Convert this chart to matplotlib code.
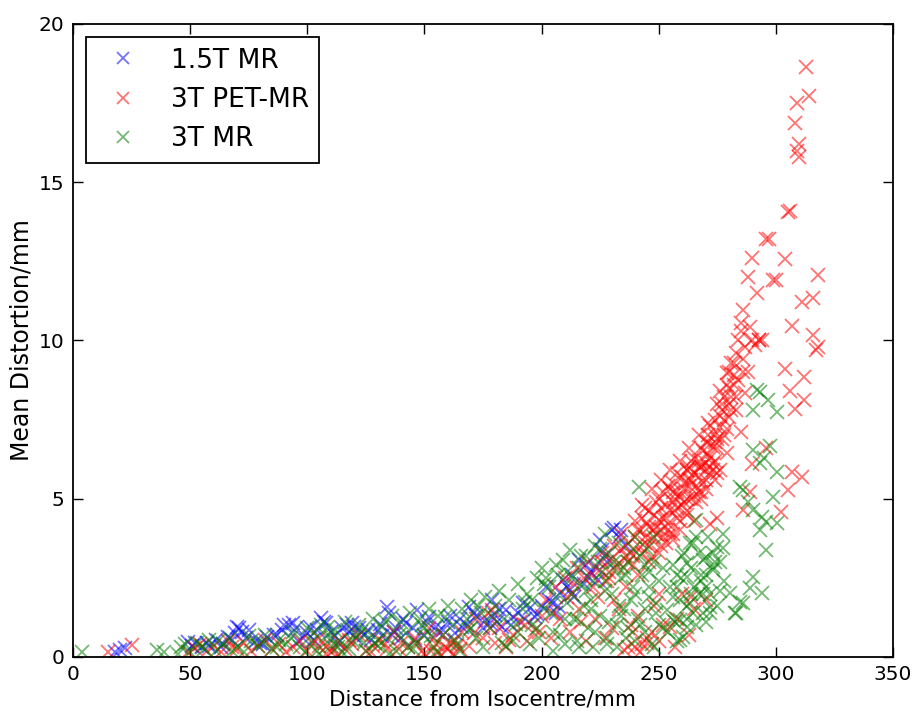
import matplotlib
matplotlib.use("Agg")
import matplotlib.pyplot as plt

# 1.5T MR
blue_x = [18, 20, 22, 49, 52, 55, 58, 61, 64, 66, 68, 70, 71, 72, 75, 78, 80, 83, 86, 87,
          90, 92, 94, 95, 98, 100, 103, 104, 106, 108, 110, 112, 115, 118, 119, 120, 122, 124, 127, 130,
          132, 134, 135, 137, 138, 140, 142, 145, 147, 150, 152, 155, 158, 160, 163, 165, 168, 169, 172, 175,
          178, 179, 180, 181, 183, 185, 188, 190, 193, 195, 198, 200, 203, 205, 206, 208, 209, 211, 212, 214,
          216, 218, 220, 221, 223, 224, 225, 226, 228, 230, 231, 233, 234, 236,
          51, 57, 63, 69, 74, 81, 89, 96, 101, 107, 113, 117, 121, 126, 131, 136, 141, 146, 151, 156,
          161, 166, 171, 176, 182, 187, 192, 197, 202, 207, 213, 219, 227]
blue_y = [0.16, 0.22, 0.28, 0.48, 0.44, 0.30, 0.36, 0.54, 0.40, 0.63, 0.55, 0.96, 0.92, 0.79, 0.85, 0.50, 0.45, 0.62, 0.70, 0.70,
          1.00, 1.01, 1.07, 0.92, 0.60, 0.75, 0.55, 0.85, 1.22, 1.07, 0.80, 0.65, 0.90, 0.79, 1.07, 0.96, 0.92, 0.70, 0.55, 0.85,
          0.65, 1.59, 1.39, 0.80, 0.92, 0.60, 1.07, 0.90, 1.48, 0.70, 1.27, 0.95, 0.85, 1.10, 0.75, 1.20, 1.00, 1.59, 1.30, 0.90,
          1.07, 1.80, 1.33, 1.10, 0.95, 1.48, 1.27, 1.40, 1.20, 1.55, 1.35, 1.60, 1.80, 1.70, 1.38, 2.01, 2.43, 2.22, 2.12, 1.90,
          3.06, 2.30, 2.54, 2.70, 2.85, 2.43, 3.70, 3.38, 3.00, 4.00, 4.07, 3.80, 4.00, 3.50,
          0.35, 0.45, 0.30, 0.75, 0.60, 0.40, 0.85, 0.50, 0.95, 1.10, 0.45, 1.00, 0.60, 0.85, 1.05, 0.70, 1.20, 0.55, 1.10, 0.80,
          1.30, 0.95, 1.40, 1.15, 1.50, 1.00, 1.70, 1.25, 2.20, 1.60, 2.60, 2.90, 3.20]

# 3T PET-MR
red_x = [15, 25, 49, 52, 54, 57, 60, 63, 66, 68, 70, 73, 76, 79, 82, 85, 88, 91, 94, 97,
         100, 102, 105, 108, 110, 113, 116, 119, 122, 125, 128, 131, 134, 137, 140, 143, 146, 149, 152, 155,
         158, 160, 163, 166, 169, 172, 175, 177, 179, 180, 182, 185, 188, 191, 194, 197, 200,
         150, 153, 156, 159, 162, 165, 157, 161, 108, 111, 113,
         202, 204, 206, 208, 210, 212, 213, 215, 216, 218, 219, 220, 222, 223, 225, 226, 227, 229, 230, 231,
         233, 234, 235, 236, 237, 238, 239, 240, 241, 242, 243, 244, 245, 245, 246, 247, 248, 249, 250, 250,
         251, 252, 253, 254, 255, 256, 257, 258, 259, 260,
         238, 241, 244, 246, 249, 252, 254, 256, 258, 260, 262, 264, 266, 268, 270, 272, 274, 276, 278, 280, 282,
         240, 242, 245, 247, 250, 255, 257, 260, 263, 265, 270,
         261, 262, 263, 264, 265, 265, 266, 267, 268, 269, 270, 270, 271, 272, 273, 273, 274, 275, 276, 276,
         277, 278, 279, 279, 280, 281, 282, 283, 284, 285, 285, 286, 287, 288, 289, 290, 290, 291, 292, 293,
         294, 296, 296, 297, 299, 300, 302, 304, 305, 305, 306, 306, 307, 308, 308, 309, 309, 310, 310, 311,
         311, 312, 313, 314, 316, 316, 317, 318, 318,
         286, 289, 272, 275, 307, 304, 312, 290, 293,
         105, 118, 127, 133, 139, 147, 154, 164, 171, 178, 186, 193, 199, 205, 211, 214, 217, 221, 224, 228,
         232, 236, 239, 243, 247, 251, 253, 255, 257, 259, 261, 263, 265, 267, 269, 271, 273, 275, 277, 279,
         281, 283, 246, 251, 256, 262, 268, 274, 280, 286, 288,
         226, 229, 231, 234, 237, 240, 242, 244, 246, 248, 250, 252, 253, 255, 256, 258, 259, 261, 262, 264,
         265, 267, 268, 270, 271, 272, 274, 275, 277, 278, 280, 281, 283, 284, 286, 287, 243, 249, 254, 258,
         263, 267, 271, 276, 282, 285, 237, 239, 241, 248, 252, 258, 264, 230, 233,
         243, 247, 251, 255, 259, 263, 267, 271, 275, 279, 250, 256, 262, 268, 274]
red_y = [0.17, 0.38, 0.17, 0.28, 0.40, 0.20, 0.35, 0.15, 0.50, 0.30, 0.25, 0.45, 0.20, 0.35, 0.55, 0.25, 0.40, 0.15, 0.30, 0.50,
         0.20, 0.45, 0.60, 0.30, 0.15, 0.50, 0.25, 0.40, 0.70, 0.20, 0.35, 0.55, 0.25, 0.80, 0.45, 0.30, 0.60, 0.20, 0.90, 0.40,
         0.70, 0.25, 0.50, 0.80, 0.35, 1.20, 0.60, 1.40, 1.48, 0.45, 0.90, 0.30, 0.70, 1.10, 0.50, 0.85, 1.30,
         0.10, 0.20, 0.15, 0.30, 0.10, 0.25, 0.05, 0.40, 0.10, 0.20, 0.08,
         1.80, 0.60, 2.20, 1.20, 2.50, 0.80, 2.00, 2.80, 1.50, 2.50, 0.50, 3.00, 2.20, 1.20, 2.75, 3.30, 0.60, 2.50, 3.10, 1.80,
         2.96, 3.40, 0.22, 2.20, 3.60, 1.00, 3.20, 3.80, 2.60, 3.49, 0.40, 3.80, 4.20, 0.44, 3.00, 3.17, 4.50, 3.90, 4.33, 2.00,
         3.50, 3.80, 4.80, 4.20, 4.64, 3.70, 5.00, 4.40, 5.06, 4.80,
         3.30, 4.00, 3.60, 4.60, 4.10, 5.20, 4.00, 5.50, 4.70, 5.70, 5.00, 6.20, 4.90, 6.60, 5.30, 7.30, 6.20, 8.40, 7.00, 9.00, 8.60,
         0.30, 0.15, 0.60, 0.80, 0.50, 0.95, 0.30, 2.00, 0.70, 1.50, 1.80,
         5.30, 4.60, 5.60, 5.00, 5.80, 4.30, 5.40, 6.00, 5.20, 6.50, 6.12, 5.60, 6.80, 6.30, 6.64, 5.90, 7.00, 6.60, 7.27, 5.90,
         8.00, 7.50, 8.96, 6.44, 7.58, 8.20, 9.30, 7.80, 8.75, 10.54, 7.10, 10.96, 8.33, 12.02, 10.44, 12.60, 6.10, 9.86, 11.50, 10.00,
         10.00, 13.20, 6.60, 13.20, 11.90, 11.90, 4.59, 12.56, 14.07, 5.29, 14.10, 8.40, 10.46, 16.88, 7.83, 17.49, 16.00, 16.20, 15.80, 11.23,
         5.69, 8.12, 18.65, 17.73, 11.33, 10.17, 9.70, 12.07, 9.80,
         4.64, 5.20, 4.20, 4.40, 5.85, 9.09, 8.86, 10.00, 10.00,
         0.35, 0.55, 0.15, 0.40, 0.25, 0.45, 0.60, 0.35, 0.75, 0.90, 0.55, 1.00, 0.80, 1.40, 1.90, 2.30, 1.10, 2.60, 1.90, 2.40,
         2.80, 3.20, 2.90, 3.30, 3.70, 4.00, 4.40, 3.90, 4.60, 4.30, 4.90, 5.40, 5.10, 5.70, 5.50, 6.00, 6.10, 5.80, 6.90, 7.20,
         7.80, 8.20, 4.10, 4.70, 5.20, 5.90, 6.00, 6.80, 8.00, 9.40, 9.00,
         3.0, 2.7, 3.5, 3.9, 3.0, 4.3, 4.0, 4.7, 3.5, 4.0, 5.0, 4.4, 3.6, 5.3, 4.9, 5.2, 4.0, 5.5, 5.9, 5.6,
         6.3, 5.2, 6.0, 6.8, 6.4, 5.8, 7.5, 6.9, 7.8, 8.2, 8.5, 9.3, 9.6, 10.0, 9.0, 9.8, 4.4, 4.9, 5.4, 5.8,
         6.0, 6.2, 7.0, 7.6, 8.9, 10.3, 0.3, 0.8, 1.3, 1.6, 1.0, 1.2, 1.9, 0.9, 1.5,
         4.8, 5.3, 5.6, 5.9, 6.2, 6.6, 7.0, 7.4, 8.0, 8.6, 3.3, 3.9, 4.5, 5.0, 5.6]

# 3T MR
green_x = [4, 36, 39, 46, 50, 53, 56, 58, 61, 64, 67, 70, 73, 76, 79, 82, 85, 88, 91, 94,
           97, 100, 102, 104, 106, 108, 110, 112, 114, 116, 118, 120, 122, 124, 126, 128, 130, 132, 134, 136,
           138, 140, 142, 144, 146, 148, 150, 152, 154, 156, 158, 160, 162, 164, 166, 168, 170, 172, 174, 176,
           178, 180, 182, 184, 186, 188, 190, 192, 194, 196, 198, 200,
           105, 115, 125, 135, 145, 155, 165, 175, 185, 195, 110, 130, 150, 170, 190,
           201, 203, 205, 207, 209, 210, 212, 213, 215, 216, 218, 219, 220, 222, 223, 225, 226, 228, 229, 230,
           232, 233, 234, 236, 237, 238, 240, 241, 241.7, 243, 244, 245, 246, 247, 248, 249, 250,
           253.4, 254, 256.1, 257, 258, 259, 259.6, 260.4, 261.9, 262, 263.3, 264.7, 265, 266, 267, 268, 269, 270.4, 270.4, 271,
           272, 273.3, 274.7, 275, 276, 277.6, 278,
           266.1, 277.4, 263.3, 269, 273.2, 262, 269, 259, 271.9, 256.2, 262, 259, 264.7,
           280.4, 282.5, 284.7, 286, 289, 290.4, 293.9, 283.2, 286, 290.4, 293.9, 296, 300.3, 293.2, 296, 299, 293.2, 300.3,
           297.5, 290.2, 293.2, 296.8, 290.4, 300.3, 295, 288, 291.8, 284.7,
           45, 48, 55, 62, 68, 75, 81, 87, 93, 99, 103, 109, 113, 119, 123, 129, 133, 139, 143, 149,
           153, 159, 163, 169, 173, 179, 183, 189, 193, 199, 202, 206, 211, 214, 217, 221, 224, 227, 231, 235,
           239, 242, 246, 249, 252, 255, 258, 261, 264, 267, 270, 273, 276,
           196, 198, 201, 204, 206, 208, 211, 213, 215, 217, 219, 221, 223, 225, 227, 229, 231, 233, 235, 237,
           239, 240, 242, 244, 246, 248, 250, 227, 232, 236, 240, 244, 248, 252, 256, 260, 264, 268, 272, 266,
           270, 274, 262, 258, 216, 210, 205, 222, 228, 234]
green_y = [0.17, 0.22, 0.17, 0.33, 0.15, 0.45, 0.25, 0.55, 0.20, 0.40, 0.60, 0.30, 0.15, 0.50, 0.35, 0.70, 0.25, 0.55, 0.40, 0.80,
           0.30, 0.90, 0.50, 0.20, 1.00, 0.65, 0.35, 0.85, 0.50, 1.10, 0.25, 0.70, 1.00, 0.45, 0.80, 1.20, 0.35, 0.95, 0.60, 1.30,
           0.20, 1.10, 0.75, 1.40, 0.45, 1.20, 0.90, 1.50, 0.30, 1.30, 0.70, 1.60, 1.00, 0.40, 1.50, 1.20, 1.80, 0.60, 1.40, 1.90,
           0.90, 1.60, 2.10, 1.20, 1.80, 0.50, 2.30, 1.50, 2.00, 1.00, 2.50, 2.80,
           0.10, 0.15, 0.20, 0.10, 0.25, 0.15, 0.20, 0.30, 0.35, 0.40, 0.60, 0.55, 0.65, 0.90, 0.80,
           1.50, 2.20, 0.80, 2.60, 3.06, 1.20, 3.38, 2.00, 0.50, 2.80, 1.60, 3.20, 0.90, 2.40, 3.50, 1.30, 2.70, 0.40, 3.30, 2.00,
           1.00, 3.60, 2.50, 0.60, 3.00, 1.80, 3.80, 1.20, 5.38, 2.60, 0.80, 3.40, 1.90, 0.40, 3.00, 1.40, 2.40,
           1.48, 0.80, 1.90, 1.10, 2.60, 1.17, 2.50, 0.63, 2.96, 1.60, 1.70, 3.59, 2.20, 1.00, 3.30, 2.60, 1.40, 3.17, 2.22, 3.80,
           2.00, 2.75, 3.49, 1.60, 3.00, 3.90, 2.40,
           4.33, 3.44, 3.60, 3.06, 2.84, 2.54, 2.00, 1.80, 1.58, 1.17, 0.96, 0.54, 1.39,
           2.02, 1.39, 1.75, 1.70, 2.17, 2.54, 2.01, 1.39, 5.28, 4.64, 4.43, 4.27, 4.23, 4.01, 3.38, 5.06, 6.13, 5.85,
           6.65, 6.54, 8.38, 8.12, 7.80, 7.75, 6.30, 4.90, 8.44, 5.38,
           0.10, 0.40, 0.35, 0.50, 0.20, 0.65, 0.45, 0.30, 0.60, 0.15, 0.75, 0.95, 0.30, 0.55, 0.80, 0.45, 1.15, 0.70, 0.30, 1.00,
           0.65, 1.25, 0.55, 0.85, 1.60, 1.30, 0.45, 1.05, 1.75, 0.60, 2.50, 1.90, 2.70, 1.20, 2.30, 1.80, 3.00, 2.10, 2.80, 1.50,
           2.20, 3.20, 2.70, 1.70, 0.90, 2.20, 0.50, 3.30, 2.80, 2.00, 1.10, 3.30, 2.10,
           1.8, 0.9, 2.3, 1.4, 2.9, 0.7, 1.7, 2.5, 1.2, 3.2, 2.1, 1.5, 0.8, 3.4, 2.4, 1.1, 3.0, 1.6, 2.8, 0.9,
           3.4, 2.0, 1.0, 2.9, 2.2, 3.8, 1.0, 3.9, 0.3, 2.6, 0.5, 1.5, 0.3, 2.8, 2.9, 3.2, 2.0, 2.4, 1.4, 3.8,
           2.6, 3.0, 1.2, 2.2, 0.3, 0.4, 0.2, 0.3, 0.6, 1.3]

fig = plt.figure(figsize=(9.17, 7.21), dpi=100)
ax = fig.add_axes([0.0796, 0.0888, 0.8942, 0.878])

ms = 10
ax.plot(blue_x, blue_y, "x", color="b", alpha=0.55, markersize=ms, mew=1.3, label="1.5T MR")
ax.plot(red_x, red_y, "x", color="r", alpha=0.55, markersize=ms, mew=1.3, label="3T PET-MR")
ax.plot(green_x, green_y, "x", color="g", alpha=0.55, markersize=ms, mew=1.3, label="3T MR")

ax.set_xlim(0, 350)
ax.set_ylim(0, 20)
ax.set_xticks(range(0, 351, 50))
ax.set_yticks(range(0, 21, 5))
ax.tick_params(direction="in", top=True, right=True, labelsize=14.5, length=7, width=1, pad=6)
for s in ax.spines.values():
    s.set_linewidth(1.3)

ax.set_xlabel("Distance from Isocentre/mm", fontsize=15.5)
ax.set_ylabel("Mean Distortion/mm", fontsize=17)

leg = ax.legend(loc="upper left", fontsize=19, fancybox=False, borderaxespad=0.5,
                numpoints=1, framealpha=1, edgecolor="black", markerscale=0.9)
leg.get_frame().set_linewidth(1.3)

fig.savefig("out.png", dpi=100)
